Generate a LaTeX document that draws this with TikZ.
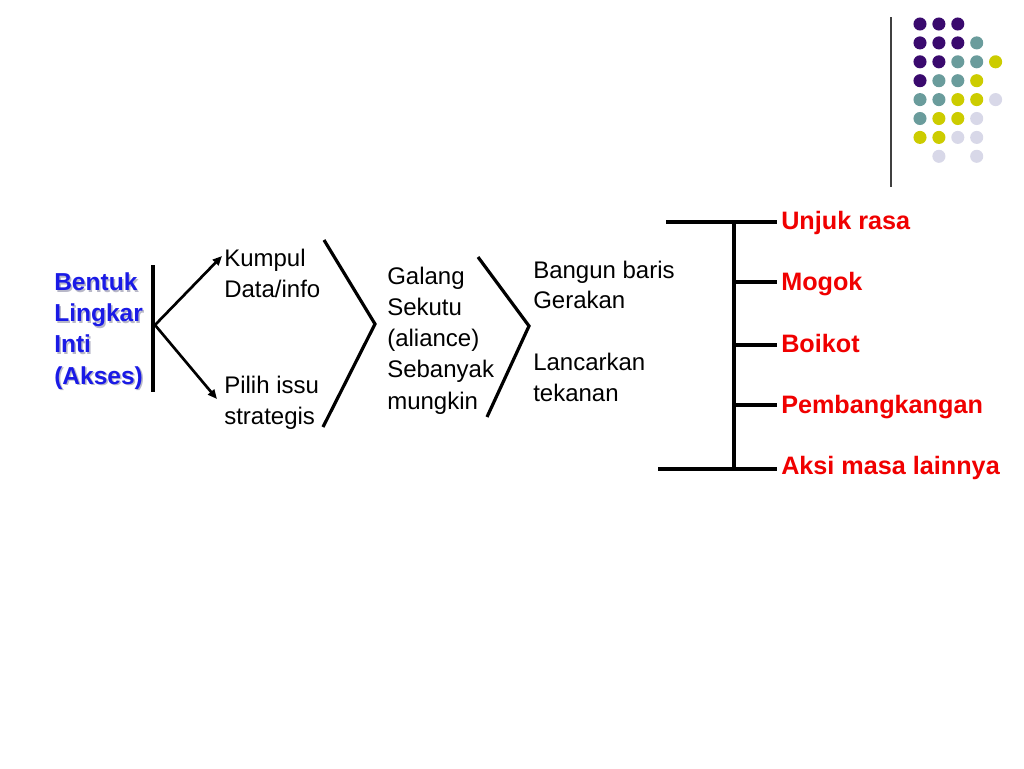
\documentclass[tikz,border=0pt]{standalone}
\usepackage{fontspec}
\setmainfont{Liberation Sans}
\usetikzlibrary{arrows.meta}
\definecolor{dP}{HTML}{3A0A6E}
\definecolor{dT}{HTML}{6A9C9C}
\definecolor{dY}{HTML}{CCCC00}
\definecolor{dL}{HTML}{D8D8E8}
\definecolor{txtblue}{HTML}{1A1AE6}
\definecolor{txtred}{HTML}{F00000}
\definecolor{shadowgray}{HTML}{B8B8C8}
\begin{document}
\begin{tikzpicture}[x=0.75pt,y=-0.75pt,
  txt/.style={font=\fontsize{18}{22.8}\selectfont, align=left, inner sep=0pt, anchor=base west},
  bluetxt/.style={txt, font=\fontsize{18.4}{23.3}\selectfont\bfseries, text=txtblue},
  redtxt/.style={txt, font=\fontsize{18.9}{22.8}\selectfont\bfseries, text=txtred},
  thick line/.style={line width=2.4pt, black},
  arrowline/.style={line width=2pt, black, -{Triangle[length=7pt,width=6pt]}},
  dotcol/.style={circle, inner sep=0pt, minimum size=9.8pt, draw=none}]
\useasboundingbox (0,0) rectangle (1024,768);
\fill[white] (0,0) rectangle (1024,768);

% top-right decoration
\draw[line width=1.1pt, black!75] (891,17) -- (891,187);
\foreach \r/\row in {0/{dP,dP,dP,,},1/{dP,dP,dP,dT,},2/{dP,dP,dT,dT,dY},3/{dP,dT,dT,dY,},4/{dT,dT,dY,dY,dL},5/{dT,dY,dY,dL,},6/{dY,dY,dL,dL,},7/{,dL,,dL,}}{
  \foreach \c [count=\i from 0] in \row {
    \ifx\c\empty\else
      \node[dotcol, fill=\c] (dot\r\i) at (920+18.9*\i, 24+18.9*\r) {};
    \fi
  }
}

% left block
\node[bluetxt, text=shadowgray] (bentukshadow) at (55.5,385.5) {Bentuk\\Lingkar\\Inti\\(Akses)};
\node[bluetxt] (bentuk) at (54,384) {Bentuk\\Lingkar\\Inti\\(Akses)};
\coordinate (barTop) at (153,265);
\coordinate (barBot) at (153,392);
\coordinate (fork) at (155,325);
\draw[thick line] (barTop) -- (barBot);

\node[txt] (kumpul) at (224,297) {Kumpul\\Data/info};
\node[txt] (pilih) at (224,424) {Pilih issu\\strategis};
\coordinate (tipA) at (222,256);
\coordinate (tipB) at (217,399);
\draw[arrowline] (fork) -- (tipA);
\draw[arrowline] (fork) -- (tipB);

% chevron 1
\coordinate (c1a) at (324,240);
\coordinate (c1b) at (375,324);
\coordinate (c1c) at (323,427);
\draw[thick line, line join=miter] (c1a) -- (c1b) -- (c1c);

\node[txt, font=\fontsize{18}{23.4}\selectfont] (galang) at (387,409) {Galang\\Sekutu\\(aliance)\\Sebanyak\\mungkin};

% chevron 2
\coordinate (c2a) at (478,257);
\coordinate (c2b) at (529,326);
\coordinate (c2c) at (487,417);
\draw[thick line, line join=miter] (c2a) -- (c2b) -- (c2c);

\node[txt] (bangun) at (533,401) {Bangun baris\\Gerakan\\[23.6pt]Lancarkan\\tekanan};

% right tree
\coordinate (tTop) at (734,222);
\coordinate (tBot) at (734,469);
\coordinate (hTopL) at (666,222);
\coordinate (hBotL) at (658,469);
\coordinate (e1) at (777,222);
\coordinate (e2) at (777,282);
\coordinate (e3) at (777,345);
\coordinate (e4) at (777,405);
\coordinate (e5) at (777,469);
\draw[thick line] (tTop) -- (tBot);
\draw[thick line] (hTopL) -- (e1);
\draw[thick line] (hBotL) -- (e5);
\draw[thick line] (734,282) -- (e2);
\draw[thick line] (734,345) -- (e3);
\draw[thick line] (734,405) -- (e4);

\node[redtxt] (r1) at (781,229) {Unjuk rasa};
\node[redtxt] (r2) at (781,290) {Mogok};
\node[redtxt] (r3) at (781,352) {Boikot};
\node[redtxt] (r4) at (781,413) {Pembangkangan};
\node[redtxt] (r5) at (781,474) {Aksi masa lainnya};
\end{tikzpicture}
\end{document}
